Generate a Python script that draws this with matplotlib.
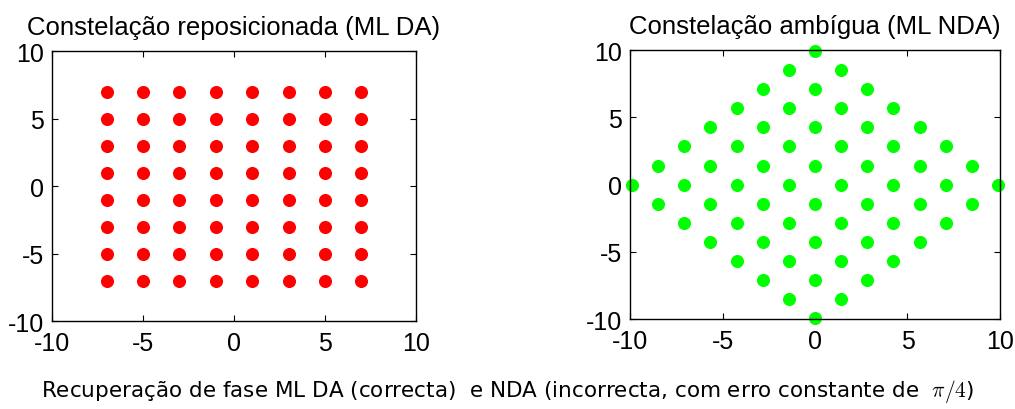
import numpy as np
import matplotlib
matplotlib.use("Agg")
import matplotlib.pyplot as plt

# 64-QAM levels (I and Q) and the constant phase error of the NDA estimator
niveis = [-7, -5, -3, -1, 1, 3, 5, 7]
erro_fase = np.pi / 4
ticks = [-10, -5, 0, 5, 10]

titulo_da = "Constelação reposicionada (ML DA)"
titulo_nda = "Constelação ambígua (ML NDA)"
legenda = "Recuperação de fase ML DA (correcta)  e NDA (incorrecta, com erro constante de  $\\pi/4$)"

I, Q = np.meshgrid(niveis, niveis)
simbolos = (I + 1j * Q).ravel()
rodados = simbolos * np.exp(1j * erro_fase)

plt.rcParams['font.family'] = ['Liberation Sans', 'DejaVu Sans']
plt.rcParams['mathtext.fontset'] = 'cm'
plt.rcParams['axes.unicode_minus'] = False

fig = plt.figure(figsize=(10.15, 4.1), dpi=100)
ax1 = fig.add_axes([0.0512, 0.2146, 0.3586, 0.6585])
ax2 = fig.add_axes([0.6207, 0.2195, 0.3645, 0.656])

ax1.plot(simbolos.real, simbolos.imag, 'o', color='#ff0000', markersize=8.4, linestyle='none')
ax2.plot(rodados.real, rodados.imag, 'o', color='#00ff00', markersize=8.4, linestyle='none', clip_on=False)

for ax, titulo in [(ax1, titulo_da), (ax2, titulo_nda)]:
    ax.set_xlim(-10, 10)
    ax.set_ylim(-10, 10)
    ax.set_xticks(ticks)
    ax.set_yticks(ticks)
    ax.tick_params(direction='in', top=True, right=True, labelsize=18, length=4, width=0.8)
    ax.tick_params(axis='x', pad=7)
    ax.tick_params(axis='y', pad=6)
    ax.set_title(titulo, fontsize=18.5, pad=12)
    for s in ax.spines.values():
        s.set_linewidth(1.0)

fig.text(0.5, 0.045, legenda, ha='center', va='center', fontsize=15.5, family='DejaVu Sans')

fig.savefig('out.png', dpi=100)
